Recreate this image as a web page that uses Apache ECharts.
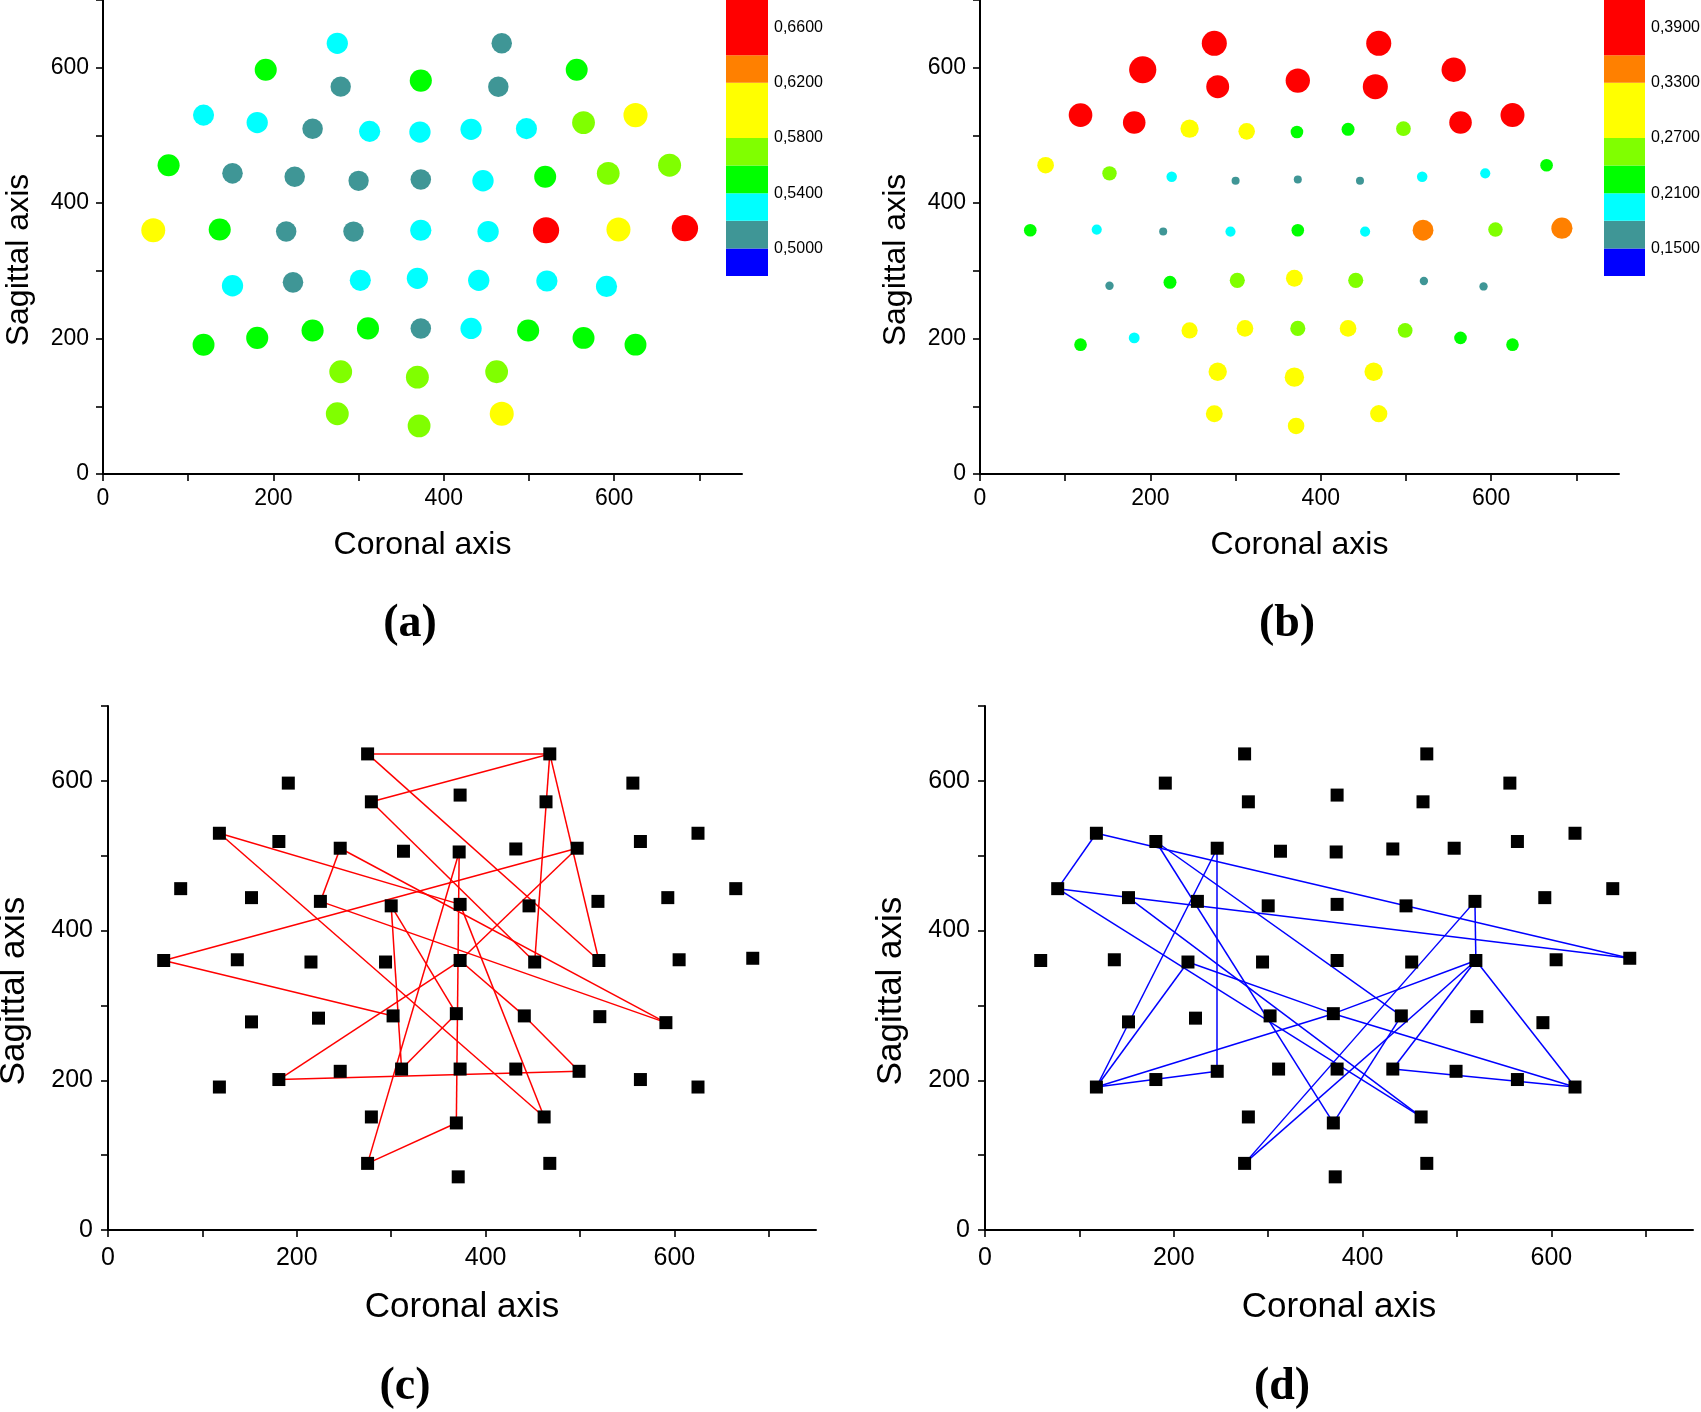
<!DOCTYPE html>
<html>
<head>
<meta charset="utf-8">
<script src="https://cdn.jsdelivr.net/npm/echarts@6/dist/echarts.min.js"></script>
<style>
html,body{margin:0;padding:0;background:#fff;}
#chart{width:1701px;height:1412px;}
</style>
</head>
<body>
<div id="chart"></div>
<script>
// ---- Electrode layout (data coordinates) ----
const electrodes = ['A1','A2','B1','B2','C1','C2','C3','D1','D2','E1','E2',
  'F1','F2','F3','F4','F5','G1','G2','H1','H2','I1','I2','I3','I4','I5',
  'J1','J2','J3','J4','J5','J6','J7','J8','J9',
  'K1','K2','K3','K4','K5','K6','K7',
  'L1','L2','L3','L4','L5','L6','L7','L8','L9',
  'M1','M2','M3','N1','N2','N3'];
const coronal = [275,468,191,556,279,373,464,118,625,181,564,
  246,313,372,432,497,77,665,152,593,225,300,373,446,519,
  59,137,215,294,373,452,520,605,683,
  152,223,302,369,441,521,591,
  118,181,246,311,373,432,499,564,625,
  279,369,462,275,371,468];
const sagittal = [636,636,597,597,572,581,572,530,530,519,519,
  510,506,505,509,510,456,456,444,444,439,433,435,433,439,
  360,361,358,358,360,358,360,361,363,
  278,283,286,289,286,285,277,
  191,201,212,215,215,215,212,201,191,
  151,143,151,89,71,89];

// ---- Panel (a) values ----
const valuesA = [0.531,0.512,0.551,0.548,0.509,0.553,0.511,0.527,0.603,0.532,0.571,
  0.513,0.529,0.533,0.531,0.528,0.552,0.574,0.514,0.569,0.511,0.508,0.513,0.534,0.549,
  0.598,0.551,0.512,0.510,0.530,0.533,0.655,0.601,0.658,
  0.532,0.514,0.528,0.531,0.533,0.530,0.529,
  0.548,0.551,0.553,0.552,0.513,0.531,0.552,0.549,0.547,
  0.571,0.572,0.569,0.573,0.570,0.601];
// ---- Panel (b) values ----
const valuesB = [0.400,0.400,0.430,0.390,0.370,0.390,0.400,0.380,0.385,0.365,0.365,
  0.305,0.280,0.225,0.230,0.255,0.282,0.225,0.250,0.190,0.195,0.160,0.160,0.160,0.195,
  0.225,0.190,0.160,0.190,0.225,0.190,0.340,0.250,0.345,
  0.165,0.230,0.260,0.285,0.260,0.165,0.165,
  0.225,0.200,0.275,0.282,0.260,0.282,0.255,0.225,0.225,
  0.305,0.320,0.305,0.285,0.280,0.290];

// ---- Colour scale levels ----
const levelsA = [0.48,0.50,0.52,0.54,0.56,0.58,0.62,0.64,0.68];
const levelsB = [0.12,0.15,0.18,0.21,0.24,0.27,0.33,0.36,0.42];
const scaleLabelsA = [0.50,0.54,0.58,0.62,0.66];
const scaleLabelsB = [0.15,0.21,0.27,0.33,0.39];

// ---- Connections ----
const edgesC = [['A1','A2'],['A2','C1'],['A1','J7'],['A2','J7'],['C1','J6'],['A2','J6'],
  ['D1','I3'],['D1','M3'],['F1','I1'],['F1','K7'],['I1','K7'],['F5','J1'],['F5','J5'],
  ['F3','M2'],['F3','N1'],['I2','L4'],['I2','K4'],['K4','L4'],['I3','M3'],['J1','K3'],
  ['J5','L2'],['J5','K5'],['K5','L7'],['L2','L7'],['M2','N1']];
const edgesD = [['D1','G1'],['D1','J9'],['G1','J9'],['G1','M3'],['H1','M3'],['E1','M2'],
  ['E1','K5'],['F1','L3'],['F1','L1'],['J3','L1'],['J3','K4'],['L1','L3'],['L1','K4'],
  ['K4','J7'],['K4','L9'],['J7','L9'],['I5','J7'],['I5','N1'],['J7','N1'],['J7','L6'],
  ['L6','L9'],['K5','M2']];

// ---- Axis ticks ----
const tickValues = [0,100,200,300,400,500,600,700];
const labelValues = [0,200,400,600];

// ---- styles ----
const binColors = ['#0000ff','#3f9696','#00ffff','#00ff00','#80ff00','#ffff00','#ff8000','#ff0000'];
const SANS = '"Liberation Sans", Arial, sans-serif';

function binColor(v, levels){
  for (let i = 0; i < levels.length - 1; i++) {
    if (v < levels[i+1]) return binColors[i];
  }
  return binColors[binColors.length-1];
}
function pt(name){ const i = electrodes.indexOf(name); return [coronal[i], sagittal[i]]; }

function xAx(gi, fs, margin, nameFs, nameGap){
  return {type:'value', gridIndex:gi, min:0, max:750,
    axisLine:{show:true,onZero:false,lineStyle:{color:'#000',width:2}},
    axisTick:{show:true,customValues:tickValues,length:7,inside:false,lineStyle:{color:'#000',width:1.6}},
    axisLabel:{customValues:labelValues,color:'#000',fontSize:fs,fontFamily:SANS,margin:margin},
    splitLine:{show:false},
    name:'Coronal axis', nameLocation:'middle', nameGap:nameGap,
    nameTextStyle:{color:'#000',fontSize:nameFs,fontFamily:SANS}};
}
function yAx(gi, fs, margin, nameFs, nameGap){
  return {type:'value', gridIndex:gi, min:0, max:700,
    axisLine:{show:true,onZero:false,lineStyle:{color:'#000',width:2}},
    axisTick:{show:true,customValues:tickValues,length:7,inside:false,lineStyle:{color:'#000',width:1.6}},
    axisLabel:{customValues:labelValues,color:'#000',fontSize:fs,fontFamily:SANS,margin:margin},
    splitLine:{show:false},
    name:'Sagittal axis', nameLocation:'middle', nameGap:nameGap,
    nameTextStyle:{color:'#000',fontSize:nameFs,fontFamily:SANS,padding:[0,46,0,0]}};
}
function cbX(gi){ return {type:'category', gridIndex:gi, data:['scale'], show:false}; }
function cbY(gi, levels, labels){
  return {type:'value', gridIndex:gi, min:levels[0], max:levels[levels.length-1], position:'right',
    axisLine:{show:false}, axisTick:{show:false}, splitLine:{show:false},
    axisLabel:{customValues:labels, margin:6, color:'#000', fontSize:16, fontFamily:SANS,
      formatter: v => v.toFixed(4).replace('.', ',')}};
}
function cbSeries(gi, levels, stackName){
  const s = [{type:'bar', xAxisIndex:gi, yAxisIndex:gi, stack:stackName, barWidth:'100%',
    data:[levels[0]], itemStyle:{color:'rgba(0,0,0,0)'}, silent:true}];
  for (let i = 0; i < levels.length - 1; i++) {
    s.push({type:'bar', xAxisIndex:gi, yAxisIndex:gi, stack:stackName, barWidth:'100%',
      data:[+(levels[i+1]-levels[i]).toFixed(4)], itemStyle:{color:binColors[i]}, silent:true});
  }
  return s;
}
function pointsWith(values){ return electrodes.map((n,i)=>[coronal[i], sagittal[i], values[i]]); }
function squares(gi){
  return {type:'scatter', xAxisIndex:gi, yAxisIndex:gi, symbol:'rect', symbolSize:13, z:5,
    data: electrodes.map((n,i)=>[coronal[i], sagittal[i]]), itemStyle:{color:'#000', opacity:1}, silent:true};
}
function linkSeries(gi, edges, color){
  return {type:'lines', coordinateSystem:'cartesian2d', xAxisIndex:gi, yAxisIndex:gi, z:2,
    data: edges.map(e=>({coords:[pt(e[0]), pt(e[1])]})),
    lineStyle:{color:color, width:1.5, opacity:1, curveness:0}, silent:true};
}

const chart = echarts.init(document.getElementById('chart'), null, {renderer:'canvas'});
const option = {
  backgroundColor:'#fff',
  animation:false,
  grid:[
    {left:103, top:0, width:639, height:474, outerBoundsMode:'none', containLabel:false},
    {left:726, top:0, width:42, height:276, outerBoundsMode:'none', containLabel:false},
    {left:980, top:0, width:639, height:474, outerBoundsMode:'none', containLabel:false},
    {left:1604, top:0, width:41, height:276, outerBoundsMode:'none', containLabel:false},
    {left:108, top:706, width:708, height:524, outerBoundsMode:'none', containLabel:false},
    {left:985, top:706, width:708, height:524, outerBoundsMode:'none', containLabel:false}
  ],
  xAxis:[xAx(0,23,13,32,55), cbX(1), xAx(2,23,13,32,55), cbX(3), xAx(4,25,16,35,60), xAx(5,25,16,35,60)],
  yAxis:[yAx(0,23,14,32,68), cbY(1,levelsA,scaleLabelsA), yAx(2,23,14,32,68), cbY(3,levelsB,scaleLabelsB),
         yAx(4,25,15,35,76), yAx(5,25,15,35,76)],
  series:[
    {type:'scatter', xAxisIndex:0, yAxisIndex:0, data:pointsWith(valuesA),
      symbolSize: d => 40*d[2], itemStyle:{color: p => binColor(p.data[2], levelsA), opacity:1}, silent:true},
    ...cbSeries(1, levelsA, 'cbA'),
    {type:'scatter', xAxisIndex:2, yAxisIndex:2, data:pointsWith(valuesB),
      symbolSize: d => 71*(d[2]-0.047), itemStyle:{color: p => binColor(p.data[2], levelsB), opacity:1}, silent:true},
    ...cbSeries(3, levelsB, 'cbB'),
    linkSeries(4, edgesC, '#ff0000'),
    squares(4),
    linkSeries(5, edgesD, '#0000ff'),
    squares(5)
  ],
  graphic:[
    {type:'text', x:410, y:624, style:{text:'(a)', align:'center', verticalAlign:'middle', fill:'#000', font:'bold 46px "Liberation Serif", "Times New Roman", serif'}},
    {type:'text', x:1287, y:624, style:{text:'(b)', align:'center', verticalAlign:'middle', fill:'#000', font:'bold 46px "Liberation Serif", "Times New Roman", serif'}},
    {type:'text', x:405, y:1387, style:{text:'(c)', align:'center', verticalAlign:'middle', fill:'#000', font:'bold 46px "Liberation Serif", "Times New Roman", serif'}},
    {type:'text', x:1282, y:1387, style:{text:'(d)', align:'center', verticalAlign:'middle', fill:'#000', font:'bold 46px "Liberation Serif", "Times New Roman", serif'}}
  ]
};
chart.setOption(option);
</script>
</body>
</html>
